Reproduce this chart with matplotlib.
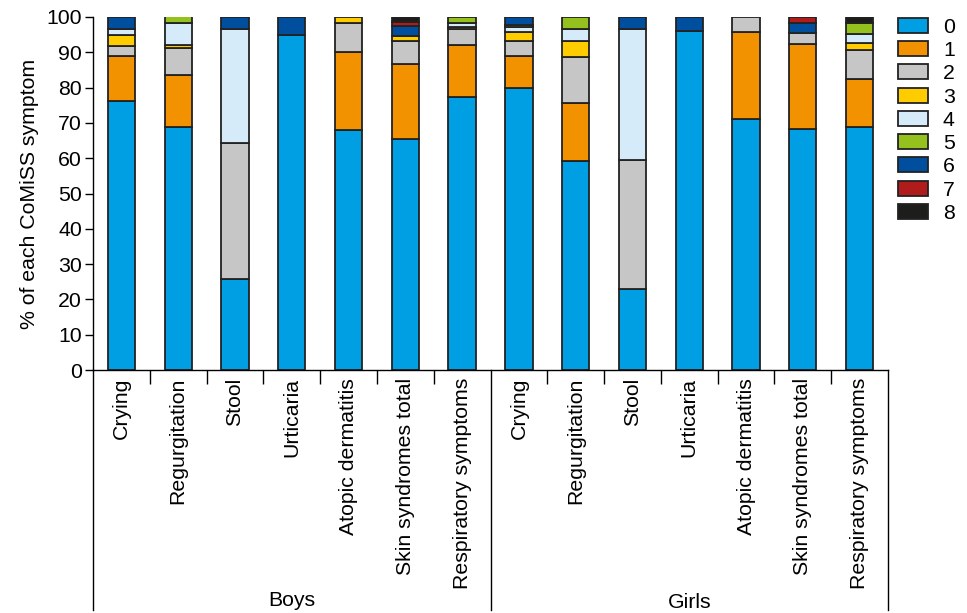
import numpy as np
import matplotlib
matplotlib.use("Agg")
import matplotlib.pyplot as plt
from matplotlib.lines import Line2D

plt.rcParams['font.family'] = ['Liberation Sans', 'DejaVu Sans']

# --- Data ---
symptoms = ["Crying", "Regurgitation", "Stool", "Urticaria", "Atopic dermatitis",
            "Skin syndromes total", "Respiratory symptoms"]
groups = ["Boys", "Girls"]
labels = symptoms + symptoms

score0 = [76.2, 68.9, 25.7, 95.0, 68.0, 65.3, 77.2, 80.0, 59.2, 23.0, 96.0, 71.0, 68.3, 68.9]
score1 = [12.8, 14.8, 0, 0, 22.2, 21.3, 14.8, 9.0, 16.4, 0, 0, 24.7, 24.1, 13.5]
score2 = [2.8, 7.5, 38.5, 0, 8.1, 6.6, 4.6, 4.3, 13.0, 36.5, 0, 4.3, 3.1, 8.2]
score3 = [3.0, 0.9, 0, 0, 1.7, 1.5, 0.7, 2.4, 4.7, 0, 0, 0, 0, 1.9]
score4 = [1.9, 6.1, 32.4, 0, 0, 0, 1.1, 1.4, 3.2, 37.1, 0, 0, 0, 2.6]
score5 = [0, 2.0, 0, 0, 0, 0, 1.6, 0.6, 3.4, 0, 0, 0, 0, 3.3]
score6 = [3.3, 0, 3.4, 5.0, 0, 2.7, 0, 2.3, 0, 3.4, 4.0, 0, 2.8, 0]
score7 = [0, 0, 0, 0, 0, 1.1, 0, 0, 0, 0, 0, 0, 1.7, 0]
score8 = [0, 0, 0, 0, 0, 1.4, 0, 0, 0, 0, 0, 0, 0, 1.6]

scores = [score0, score1, score2, score3, score4, score5, score6, score7, score8]
score_names = ["0", "1", "2", "3", "4", "5", "6", "7", "8"]
colors = ["#009FE3", "#F39200", "#C6C6C6", "#FFCC00", "#D6EBFA",
          "#95C11F", "#004F9F", "#B01B1B", "#1D1D1B"]

FS = 15.3

# --- Plot ---
fig = plt.figure(figsize=(9.67, 6.13), dpi=100)
ax = fig.add_axes([93 / 967, 243 / 613, 795 / 967, 353 / 613])

x = np.arange(len(labels))
bottom = np.zeros(len(labels))
handles = []
for vals, name, col in zip(scores, score_names, colors):
    vals = np.array(vals, dtype=float)
    m = vals > 0
    ax.bar(x[m], vals[m], bottom=bottom[m], width=0.48, color=col,
           edgecolor="#222222", linewidth=1.3)
    bottom += vals
    handles.append(plt.Rectangle((0, 0), 1, 1, facecolor=col, edgecolor="#222222", linewidth=1.3))

ax.set_xlim(-0.5, len(labels) - 0.5)
ax.set_ylim(0, 100)
ax.set_yticks(range(0, 101, 10))
ax.tick_params(axis="y", labelsize=FS, length=6, width=1, direction="out", pad=2)
ax.set_ylabel("% of each CoMiSS symptom", fontsize=FS, labelpad=5)

# category boundary ticks (the one between groups is a long line)
bounds = [b + 0.5 for b in range(len(labels) - 1) if b != 6]
ax.set_xticks(bounds)
ax.set_xticklabels([])
ax.tick_params(axis="x", length=10, width=1, direction="out")

for s in ["top", "right"]:
    ax.spines[s].set_visible(False)
for s in ["left", "bottom"]:
    ax.spines[s].set_linewidth(1)

# category labels
for xi, lab in zip(x, labels):
    ax.text(xi, -0.022, lab, rotation=90, ha="center", va="top", fontsize=FS,
            transform=ax.get_xaxis_transform())

# group separators
ybot = -(610 - 370) / 353
for xv in [-0.5, 6.5, 13.5]:
    ax.add_line(Line2D([xv, xv], [0, ybot], color="black", linewidth=1,
                       transform=ax.get_xaxis_transform(), clip_on=False))

ax.text(3, -(600 - 370) / 353, groups[0], ha="center", va="center", fontsize=FS,
        transform=ax.get_xaxis_transform())
ax.text(10, -(603 - 370) / 353, groups[1], ha="center", va="center", fontsize=FS,
        transform=ax.get_xaxis_transform())

fig.legend(handles, score_names, loc="upper left", bbox_to_anchor=(0.929, 0.971),
           frameon=False, fontsize=FS, handlelength=1.38, handleheight=0.72,
           labelspacing=0.2, handletextpad=0.72, borderaxespad=0, borderpad=0)

fig.savefig("out.png", dpi=100)
